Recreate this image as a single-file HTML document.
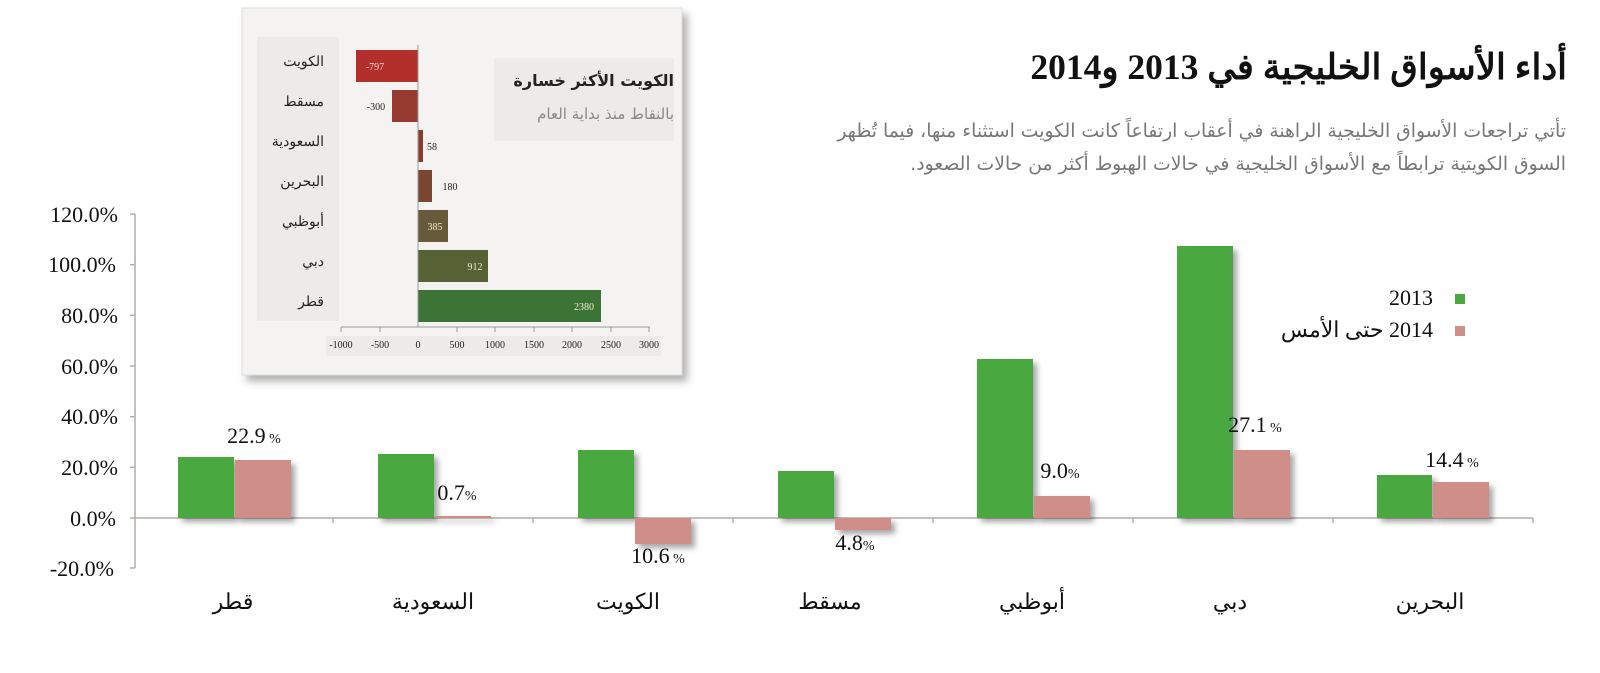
<!DOCTYPE html>
<html><head><meta charset="utf-8"><style>
body{margin:0;background:#fff;width:1600px;height:673px;overflow:hidden}
svg{display:block}
svg text{font-family:"Liberation Serif","DejaVu Serif","Noto Sans CJK SC",serif}
.s{font-family:"DejaVu Sans","Liberation Sans","Noto Sans CJK SC",sans-serif}
</style></head><body>
<svg width="1600" height="673" viewBox="0 0 1600 673" xmlns="http://www.w3.org/2000/svg">
<defs><filter id="sh" x="-20%" y="-20%" width="150%" height="150%"><feDropShadow dx="4" dy="4" stdDeviation="3" flood-color="#000" flood-opacity="0.35"/></filter>
<filter id="sh2" x="-10%" y="-10%" width="120%" height="120%"><feDropShadow dx="5" dy="6" stdDeviation="4" flood-color="#000" flood-opacity="0.3"/></filter></defs>
<!-- title -->
<text x="1567" y="79" text-anchor="start" font-size="35.5" font-weight="bold" fill="#111" direction="rtl">أداء الأسواق الخليجية في 2013 و2014</text>
<text x="1566" y="137" text-anchor="start" font-size="18.8" fill="#777" class="s" direction="rtl">تأتي تراجعات الأسواق الخليجية الراهنة في أعقاب ارتفاعاً كانت الكويت استثناء منها، فيما تُظهر</text>
<text x="1566" y="170" text-anchor="start" font-size="18.8" fill="#777" class="s" direction="rtl">السوق الكويتية ترابطاً مع الأسواق الخليجية في حالات الهبوط أكثر من حالات الصعود.</text>
<!-- legend -->
<rect x="1455" y="294" width="10" height="10" fill="#4aa83f"/>
<text x="1433" y="305" text-anchor="end" font-size="22" fill="#111">2013</text>
<rect x="1455" y="326" width="10" height="10" fill="#d08e88"/>
<text x="1433" y="337" text-anchor="start" font-size="22" fill="#111" direction="rtl">2014 حتى الأمس</text>
<!-- axes -->
<g stroke="#b5aca8" stroke-width="1.5">
<line x1="135" y1="214" x2="135" y2="568"/>
<line x1="130" y1="214" x2="135" y2="214"/><line x1="130" y1="264.7" x2="135" y2="264.7"/><line x1="130" y1="315.3" x2="135" y2="315.3"/><line x1="130" y1="366" x2="135" y2="366"/><line x1="130" y1="416.7" x2="135" y2="416.7"/><line x1="130" y1="467.3" x2="135" y2="467.3"/><line x1="130" y1="518" x2="135" y2="518"/><line x1="130" y1="568" x2="135" y2="568"/>
<line x1="135" y1="518" x2="1533" y2="518"/>
<line x1="333" y1="518" x2="333" y2="523"/><line x1="533" y1="518" x2="533" y2="523"/><line x1="733" y1="518" x2="733" y2="523"/><line x1="933" y1="518" x2="933" y2="523"/><line x1="1133" y1="518" x2="1133" y2="523"/><line x1="1333" y1="518" x2="1333" y2="523"/><line x1="1533" y1="518" x2="1533" y2="523"/>
</g>
<g font-size="22" fill="#111" text-anchor="end">
<text x="118" y="222">120.0%</text><text x="116" y="272">100.0%</text><text x="118" y="323">80.0%</text><text x="118" y="374">60.0%</text><text x="118" y="424">40.0%</text><text x="118" y="475">20.0%</text><text x="116" y="526">0.0%</text><text x="114" y="576">-20.0%</text>
</g>
<g filter="url(#sh)">
<rect x="178" y="457" width="56" height="61" fill="#4aa83f"/><rect x="235" y="460" width="56" height="58" fill="#d08e88"/>
<rect x="378" y="454" width="56" height="64" fill="#4aa83f"/><rect x="435" y="516" width="56" height="2" fill="#d08e88"/>
<rect x="578" y="450" width="56" height="68" fill="#4aa83f"/><rect x="635" y="518" width="56" height="26" fill="#d08e88"/>
<rect x="778" y="471" width="56" height="47" fill="#4aa83f"/><rect x="835" y="518" width="56" height="12" fill="#d08e88"/>
<rect x="977" y="359" width="56" height="159" fill="#4aa83f"/><rect x="1034" y="496" width="56" height="22" fill="#d08e88"/>
<rect x="1177" y="246" width="56" height="272" fill="#4aa83f"/><rect x="1234" y="450" width="56" height="68" fill="#d08e88"/>
<rect x="1377" y="475" width="55" height="43" fill="#4aa83f"/><rect x="1433" y="482" width="56" height="36" fill="#d08e88"/>
</g>
<g font-size="22" fill="#111" text-anchor="middle">
<text x="254" y="443">22.9<tspan font-size="14"> %</tspan></text>
<text x="457" y="500">0.7<tspan font-size="14">%</tspan></text>
<text x="658" y="563">10.6<tspan font-size="14"> %</tspan></text>
<text x="855" y="550">4.8<tspan font-size="14">%</tspan></text>
<text x="1060" y="478">9.0<tspan font-size="14">%</tspan></text>
<text x="1255" y="432">27.1<tspan font-size="14"> %</tspan></text>
<text x="1452" y="467">14.4<tspan font-size="14"> %</tspan></text>
</g>
<g font-size="22" fill="#111" text-anchor="middle" class="s">
<text x="233" y="609">قطر</text><text x="433" y="609">السعودية</text><text x="628" y="609">الكويت</text><text x="830" y="609">مسقط</text><text x="1032" y="609">أبوظبي</text><text x="1230" y="609">دبي</text><text x="1430" y="609">البحرين</text>
</g>
<!-- inset -->
<rect x="242" y="8" width="440" height="367" fill="#f4f3f1" stroke="#ddd" filter="url(#sh2)"/>
<rect x="257" y="37" width="82" height="284" fill="#ecebe9"/>
<rect x="494" y="58" width="180" height="83" fill="#ecebe9"/>
<rect x="326" y="336" width="335" height="20" fill="#ecebe9"/>
<text x="674" y="86" text-anchor="start" font-size="16" font-weight="bold" fill="#222" class="s" direction="rtl">الكويت الأكثر خسارة</text>
<text x="674" y="119" text-anchor="start" font-size="15" fill="#888" class="s" direction="rtl">بالنقاط منذ بداية العام</text>
<g font-size="14" fill="#222" text-anchor="end" class="s">
<text x="324" y="66">الكويت</text><text x="324" y="106">مسقط</text><text x="324" y="146">السعودية</text><text x="324" y="186">البحرين</text><text x="324" y="226">أبوظبي</text><text x="324" y="266">دبي</text><text x="324" y="306">قطر</text>
</g>
<rect x="356" y="50" width="62" height="32" fill="#b22f2c"/>
<rect x="392" y="90" width="26" height="32" fill="#973b30"/>
<rect x="418" y="130" width="5" height="32" fill="#8a3d2c"/>
<rect x="418" y="170" width="14" height="32" fill="#7b4630"/>
<rect x="418" y="210" width="30" height="32" fill="#675a38"/>
<rect x="418" y="250" width="70" height="32" fill="#566234"/>
<rect x="418" y="290" width="183" height="32" fill="#3c7436"/>
<g stroke="#999" stroke-width="1"><line x1="418" y1="45" x2="418" y2="327"/><line x1="341" y1="327" x2="650" y2="327"/>
<line x1="341" y1="327" x2="341" y2="332"/><line x1="380" y1="327" x2="380" y2="332"/><line x1="457" y1="327" x2="457" y2="332"/><line x1="495" y1="327" x2="495" y2="332"/><line x1="534" y1="327" x2="534" y2="332"/><line x1="572" y1="327" x2="572" y2="332"/><line x1="611" y1="327" x2="611" y2="332"/><line x1="649" y1="327" x2="649" y2="332"/></g>
<g font-size="10" fill="#222" text-anchor="middle" class="s">
<text x="341" y="348">-1000</text><text x="380" y="348">-500</text><text x="418" y="348">0</text><text x="457" y="348">500</text><text x="495" y="348">1000</text><text x="534" y="348">1500</text><text x="572" y="348">2000</text><text x="611" y="348">2500</text><text x="649" y="348">3000</text>
</g>
<g font-size="10" class="s">
<text x="375" y="70" fill="#f3d0cc" text-anchor="middle">-797</text>
<text x="376" y="110" fill="#222" text-anchor="middle">-300</text>
<text x="432" y="150" fill="#222" text-anchor="middle">58</text>
<text x="450" y="190" fill="#222" text-anchor="middle">180</text>
<text x="435" y="230" fill="#f0ead0" text-anchor="middle">385</text>
<text x="475" y="270" fill="#f0ead0" text-anchor="middle">912</text>
<text x="584" y="310" fill="#f0ead0" text-anchor="middle">2380</text>
</g>
</svg>
</body></html>
